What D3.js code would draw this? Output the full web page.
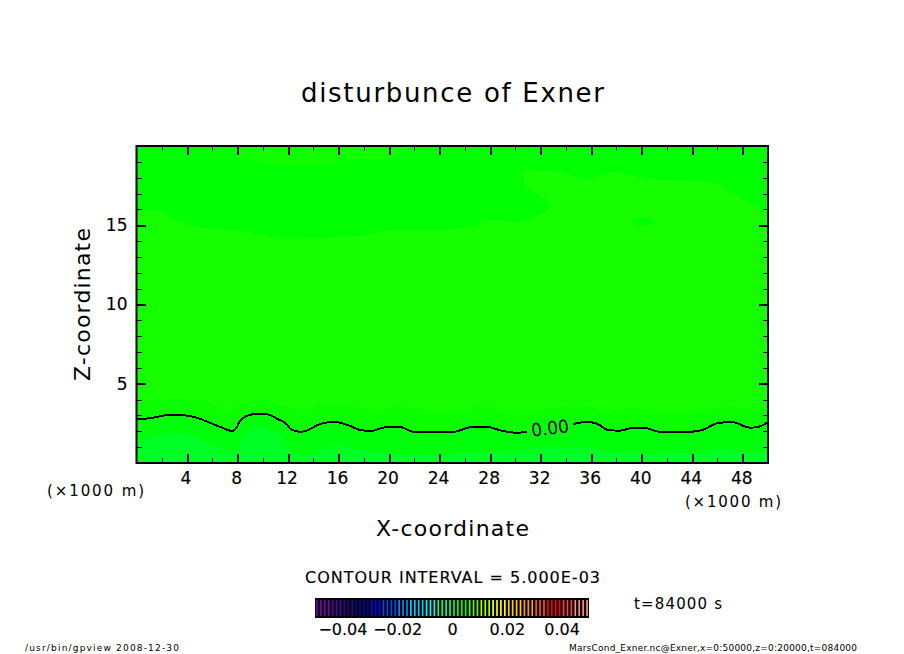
<!DOCTYPE html>
<html>
<head>
<meta charset="utf-8">
<script src="https://d3js.org/d3.v7.min.js"></script>
<style>
	html, body { margin:0; padding:0; background:#fff; }
	svg { display:block; }
	text { font-family:"DejaVu Sans"; fill:#000; }
	.axis path { display:none; }
	.axis line { stroke:#000; shape-rendering:crispEdges; }
	.axis text { font-size:17px; font-family:"DejaVu Sans"; stroke:#000; stroke-width:0.15px; }
</style>
</head>
<body>
<svg id="svgelement" width="904" height="654"></svg>
<script>
	var width = 904;
	var height = 654;

	var xMajorTicks = [4,8,12,16,20,24,28,32,36,40,44,48];
	var xMinorTicks = [2,6,10,14,18,22,26,30,34,38,42,46,50];
	var zMajorTicks = [5,10,15];
	var zMinorTicks = [1,2,3,4,6,7,8,9,11,12,13,14,16,17,18,19];

	// zero contour, x in 1000 m, z in 1000 m, split where the label sits
	var zeroLeftX = [0,1.34,2.69,3.48,4.51,5.62,6.65,7.59,7.91,8.15,8.47,9.41,10.2,11.16,11.95,12.18,12.97,13.77,14.16,14.79,15.59,16.14,16.93,17.72,18.51,19.86,20.89,21.91,25.08,26.66,27.61,29.03,30.14,30.93];
	var zeroLeftZ = [2.74,2.86,3.05,3.03,2.92,2.60,2.27,2.02,2.21,2.60,2.86,3.09,3.09,2.78,2.40,2.15,1.96,2.15,2.33,2.52,2.59,2.54,2.33,2.08,2.02,2.27,2.27,1.97,1.97,2.29,2.29,2.02,1.91,1.97];
	var zeroRightX = [34.57,35.68,36.47,37.34,38.29,39.32,40.11,41.46,43.83,44.78,46.04,47.15,48.58,49.21,50];
	var zeroRightZ = [2.46,2.59,2.48,2.08,2.04,2.23,2.23,1.97,1.97,2.08,2.52,2.59,2.23,2.27,2.59];

	// filled band edges
	var upperX = [0,1.90,2.69,3.88,6.33,9.02,11.79,14.56,18.12,20.09,24.05,26.58,28.01,30.38,31.96,32.67,32.36,31.01,30.62,30.93,31.80,33.54,35.92,36.71,37.66,40.66,45.81,46.99,48.58,50];
	var upperZ = [15.90,15.90,15.46,15.08,14.76,14.57,14.13,14.20,14.38,14.70,14.70,14.95,15.33,15.20,15.65,16.09,16.66,17.41,17.92,18.55,18.42,18.36,17.85,18.11,18.36,17.92,17.66,17.16,16.40,15.96];
	var capX = [7.59,7.99,9.41,11.79,14.56,16.93,20.09,21.52];
	var capZ = [20,19.24,19.05,18.86,18.80,19.18,19.24,20];
	var spotX = [39.2,39.6,40.66,41.0,40.4,39.6];
	var spotZ = [15.2,15.42,15.42,15.2,14.98,15.0];
	var nearX = [0,2.14,4.83,6.41,7.20,7.99,10.05,11.95,13.21,15.35,16.77,18.75,21.12,23.50,25.40,27.45,30.14,33.31,35.52,37.34,39.48,41.85,43.67,46.60,48.97,50];
	var nearZ = [3.66,4.04,3.97,3.60,3.28,3.66,3.97,3.53,3.34,3.79,3.66,3.34,3.60,3.22,3.22,3.60,3.22,3.53,3.60,3.22,3.47,3.15,3.22,3.60,3.41,3.53];
	var lowX = [0,1.34,2.93,4.83,6.41,7.99,8.47,10.05,11.39,12.42,13.21,14.56,15.90,16.77,18.75,21.44,24.05,26.66,29.35,32.0,33.31,35.76,38.45,41.06,43.67,46.36,48.97,50];
	var lowZ = [1.26,1.64,1.89,1.58,0.95,0.82,1.64,2.21,1.64,0.63,0.38,0.82,1.14,0.95,0.69,0.50,0.50,0.69,0.63,0.95,0.95,0.95,0.63,0.63,0.63,0.88,0.63,0.63];

	var colorTicks = [-0.04,-0.02,0,0.02,0.04];
	var colorLevels = ["#7700bb","#5500aa","#330088","#0000aa","#0000ff","#0044ff","#0088ff","#00ccff","#00ffff","#00ff88","#00ff00","#55ff00","#aaff00","#ffff00","#ffcc00","#ff9900","#ff5500","#ff0000","#ff4444","#ff8888"];

	var svg = d3.select("#svgelement");
	var plot = {left:136.5, right:768, top:146, bottom:463};

	var xScale = d3.scaleLinear().domain([0,50]).range([plot.left,plot.right]);
	var zScale = d3.scaleLinear().domain([0,20]).range([plot.bottom,plot.top]);

	function pairs(xs,zs) {
		return xs.map(function(d,i) {return [d,zs[i]];});
	}
	var smoothLine = d3.line()
		.x(function(d){return xScale(d[0]);})
		.y(function(d){return zScale(d[1]);})
		.curve(d3.curveCatmullRom);
	var contourLine = d3.line()
		.x(function(d){return xScale(d[0]);})
		.y(function(d){return zScale(d[1]);})
		.curve(d3.curveMonotoneX);
	var area = d3.area()
		.x(function(d){return xScale(d[0]);})
		.y0(zScale(0))
		.y1(function(d){return zScale(d[1]);})
		.curve(d3.curveMonotoneX);

	svg.append("clipPath").attr("id","plotclip").append("rect")
		.attr("x",plot.left).attr("y",plot.top)
		.attr("width",plot.right-plot.left).attr("height",plot.bottom-plot.top);
	var fills = svg.append("g").attr("clip-path","url(#plotclip)").attr("shape-rendering","crispEdges");

	fills.append("rect")
		.attr("x",plot.left).attr("y",plot.top)
		.attr("width",plot.right-plot.left).attr("height",plot.bottom-plot.top)
		.attr("fill","#16ff00");

	var upperPts = pairs(upperX,upperZ);
	fills.append("path")
		.attr("d",smoothLine(upperPts)+"L"+xScale(50)+","+zScale(20)+"L"+xScale(0)+","+zScale(20)+"Z")
		.attr("fill","#00ff00");
	fills.append("path").attr("d",smoothLine(pairs(capX,capZ))+"Z").attr("fill","#12ff00");
	fills.append("path")
		.attr("d",smoothLine.curve(d3.curveCatmullRomClosed)(pairs(spotX,spotZ)))
		.attr("fill","#00ff00");
	smoothLine.curve(d3.curveCatmullRom);

	var zeroLeft = pairs(zeroLeftX,zeroLeftZ);
	var zeroRight = pairs(zeroRightX,zeroRightZ);

	fills.append("path").attr("d",area(pairs(nearX,nearZ))).attr("fill","#0bff00");
	fills.append("path").attr("d",area(zeroLeft.concat(zeroRight))).attr("fill","#00ff0a");
	fills.append("path").attr("d",area(pairs(lowX,lowZ))).attr("fill","#00ff24");

	[zeroLeft,zeroRight].forEach(function(seg) {
		fills.append("path")
			.attr("d",contourLine(seg))
			.attr("fill","none")
			.attr("stroke","#000")
			.attr("stroke-width",2);
	});

	svg.append("text")
		.attr("transform","translate(550,428) rotate(-7)")
		.attr("text-anchor","middle")
		.attr("dy","0.36em")
		.attr("textLength",38)
		.attr("lengthAdjust","spacingAndGlyphs")
		.style("font-size","18px")
		.text("0.00");

	// ticks point inward on all four sides
	function addAxis(axis,x,y,width,labels) {
		var g = svg.append("g")
			.attr("class","axis")
			.attr("transform","translate("+x+","+y+")")
			.call(axis);
		g.selectAll("line").attr("stroke-width",width);
		if(!labels) g.selectAll("text").remove();
		return g;
	}
	addAxis(d3.axisBottom(xScale).tickValues(xMajorTicks).tickSize(-9).tickPadding(9),0,plot.bottom,2,true)
		.selectAll("text").attr("dx",-1.5);
	addAxis(d3.axisBottom(xScale).tickValues(xMinorTicks).tickSize(-5),0,plot.bottom,1,false);
	addAxis(d3.axisTop(xScale).tickValues(xMajorTicks).tickSize(-9),0,plot.top,2,false);
	addAxis(d3.axisTop(xScale).tickValues(xMinorTicks).tickSize(-5),0,plot.top,1,false);
	addAxis(d3.axisLeft(zScale).tickValues(zMajorTicks).tickSize(-9).tickPadding(9),plot.left,0,2,true);
	addAxis(d3.axisLeft(zScale).tickValues(zMinorTicks).tickSize(-5),plot.left,0,1,false);
	addAxis(d3.axisRight(zScale).tickValues(zMajorTicks).tickSize(-9),plot.right,0,2,false);
	addAxis(d3.axisRight(zScale).tickValues(zMinorTicks).tickSize(-5),plot.right,0,1,false);

	svg.append("rect")
		.attr("x",plot.left).attr("y",plot.top)
		.attr("width",plot.right-plot.left).attr("height",plot.bottom-plot.top)
		.attr("fill","none").attr("stroke","#000").attr("stroke-width",2);

	function label(str,x,y,size,len) {
		return svg.append("text")
			.attr("x",x).attr("y",y)
			.attr("textLength",len)
			.attr("lengthAdjust","spacing")
			.style("font-size",size+"px")
			.text(str);
	}
	label("disturbunce of Exner",301,102,26,303);
	label("X-coordinate",376,536,22,153);
	label("(×1000 m)",47,496,15,97);
	label("(×1000 m)",685,507,15,96);
	label("CONTOUR INTERVAL = 5.000E-03",305,583,16,295).style("stroke","#000").style("stroke-width","0.15px");
	label("t=84000 s",634,609,15,88);
	label("/usr/bin/gpview   2008-12-30",25,651,9,154);
	label("MarsCond_Exner.nc@Exner,x=0:50000,z=0:20000,t=084000",569,651,9,288);

	svg.append("text")
		.attr("transform","translate(90,381) rotate(-90)")
		.attr("textLength",153)
		.attr("lengthAdjust","spacing")
		.style("font-size","22px")
		.text("Z-coordinate");

	// colour bar: black strip with thin coloured lines
	var barX = d3.scaleLinear().domain([-0.05,0.05]).range([315,589]);
	var barColor = d3.scaleQuantize().domain([-0.05,0.05]).range(colorLevels);
	var barLines = d3.range(70).map(function(i) {return -0.05+(i+0.5)*0.1/70;});

	svg.append("rect")
		.attr("x",barX(-0.05)).attr("y",598)
		.attr("width",barX(0.05)-barX(-0.05)).attr("height",20)
		.attr("fill","#000");
	svg.append("g").selectAll("line")
		.data(barLines)
		.enter()
		.append("line")
		.attr("x1",function(d){return barX(d);})
		.attr("x2",function(d){return barX(d);})
		.attr("y1",600)
		.attr("y2",616)
		.attr("stroke",function(d){return barColor(d);})
		.attr("stroke-width",1.7);

	var barAxis = d3.axisBottom(barX)
		.tickValues(colorTicks)
		.tickSize(0)
		.tickPadding(6)
		.tickFormat(function(d){return d==0 ? "0" : (d<0 ? "−" : "")+Math.abs(d).toFixed(2);});
	svg.append("g")
		.attr("class","axis")
		.attr("transform","translate(0,618)")
		.call(barAxis)
		.selectAll("text").style("font-size","16px");
</script>
</body>
</html>
